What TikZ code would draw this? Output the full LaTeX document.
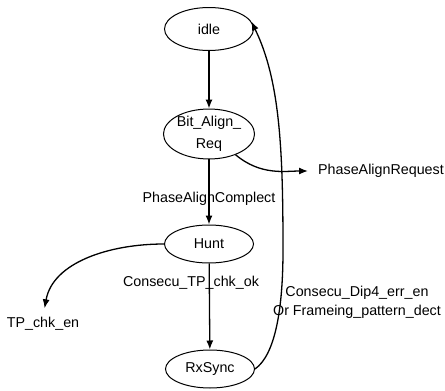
\documentclass[tikz,border=0pt]{standalone}
\usepackage{fontspec}
\setmainfont{Liberation Sans}
\usetikzlibrary{shapes.geometric,arrows.meta}
\begin{document}
\begin{tikzpicture}[x=1pt,y=-1pt,
  state/.style={draw,ellipse,line width=1pt,minimum width=89pt,minimum height=42pt,inner sep=0pt,font=\fontsize{14.3}{22}\selectfont,align=center},
  lbl/.style={inner sep=0pt,font=\fontsize{14.3}{19}\selectfont,align=center},
  conn/.style={line width=1.3pt,-{Latex[length=9pt,width=7pt]}}]
\useasboundingbox (0,0) rectangle (445,391);
\node[state,minimum height=43pt] (idle) at (209,29) {idle};
\node[state] (bit) at (209,134) {Bit\_Align\_\\Req};
\node[state,minimum height=38pt] (hunt) at (209,244) {Hunt};
\node[state,minimum height=38pt] (rx) at (210,369) {RxSync};
\node[lbl,anchor=west] (par) at (318,171) {PhaseAlignRequest};
\node[lbl] (pac) at (209,199) {PhaseAlignComplect};
\node[lbl] (ctp) at (191,283) {Consecu\_TP\_chk\_ok};
\node[lbl] (tp) at (43,324) {TP\_chk\_en};
\node[lbl] (dip) at (357,302) {Consecu\_Dip4\_err\_en\\Or Frameing\_pattern\_dect};
\draw[conn] (idle) -- (bit);
\draw[conn] (bit) -- (hunt);
\draw[conn] (hunt) -- (rx);
\draw[conn,shorten >=10pt] (bit.-38) to[out=-40,in=180] (par.west);
\draw[conn,shorten >=9pt] (hunt.west) to[out=180,in=80] (tp.north);
\draw[conn] (rx.east) .. controls (275,355) and (283,310) .. (283,250) .. controls (283,150) and (280,80) .. (idle.10);
\end{tikzpicture}
\end{document}
